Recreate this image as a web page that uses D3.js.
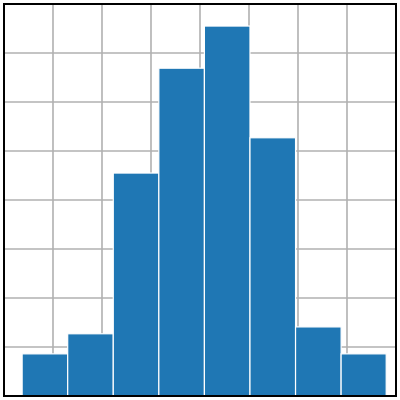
<!DOCTYPE html>
<html>
<head>
<meta charset="utf-8">
<script src="https://cdn.jsdelivr.net/npm/d3@7"></script>
<style>
  body { margin: 0; background: #fff; }
</style>
</head>
<body>
<script>
// bin edges and bar heights
var binEdges = [0.37, 1.30, 2.23, 3.16, 4.09, 5.02, 5.95, 6.88, 7.80];
var counts = [0.86, 1.27, 4.55, 6.69, 7.55, 5.27, 1.41, 0.86];
var gridTicks = [1, 2, 3, 4, 5, 6, 7];

var w = 400, h = 400;
var padLeft = 4, padTop = 4, padRight = 396, padBottom = 396;

var x = d3.scaleLinear().domain([0, 8]).range([padLeft, padRight]);
var y = d3.scaleLinear().domain([0, 8]).range([padBottom, padTop]);

var svg = d3.select("body").append("svg")
  .attr("width", w)
  .attr("height", h);

// grid
svg.append("g").selectAll("line")
  .data(gridTicks).enter().append("line")
  .attr("x1", function(d) { return x(d); })
  .attr("x2", function(d) { return x(d); })
  .attr("y1", padTop).attr("y2", padBottom)
  .attr("stroke", "#b0b0b0").attr("stroke-width", 1.6);

svg.append("g").selectAll("line")
  .data(gridTicks).enter().append("line")
  .attr("y1", function(d) { return y(d); })
  .attr("y2", function(d) { return y(d); })
  .attr("x1", padLeft).attr("x2", padRight)
  .attr("stroke", "#b0b0b0").attr("stroke-width", 1.6);

// bars
svg.append("g").selectAll("rect")
  .data(counts).enter().append("rect")
  .attr("x", function(d, i) { return x(binEdges[i]); })
  .attr("width", function(d, i) { return x(binEdges[i + 1]) - x(binEdges[i]); })
  .attr("y", function(d) { return y(d); })
  .attr("height", function(d) { return y(0) - y(d); })
  .attr("fill", "#1f77b4")
  .attr("stroke", "#fff")
  .attr("stroke-width", 1.2);

// frame
svg.append("rect")
  .attr("x", padLeft).attr("y", padTop)
  .attr("width", padRight - padLeft).attr("height", padBottom - padTop)
  .attr("fill", "none")
  .attr("stroke", "#000")
  .attr("stroke-width", 2);
</script>
</body>
</html>
